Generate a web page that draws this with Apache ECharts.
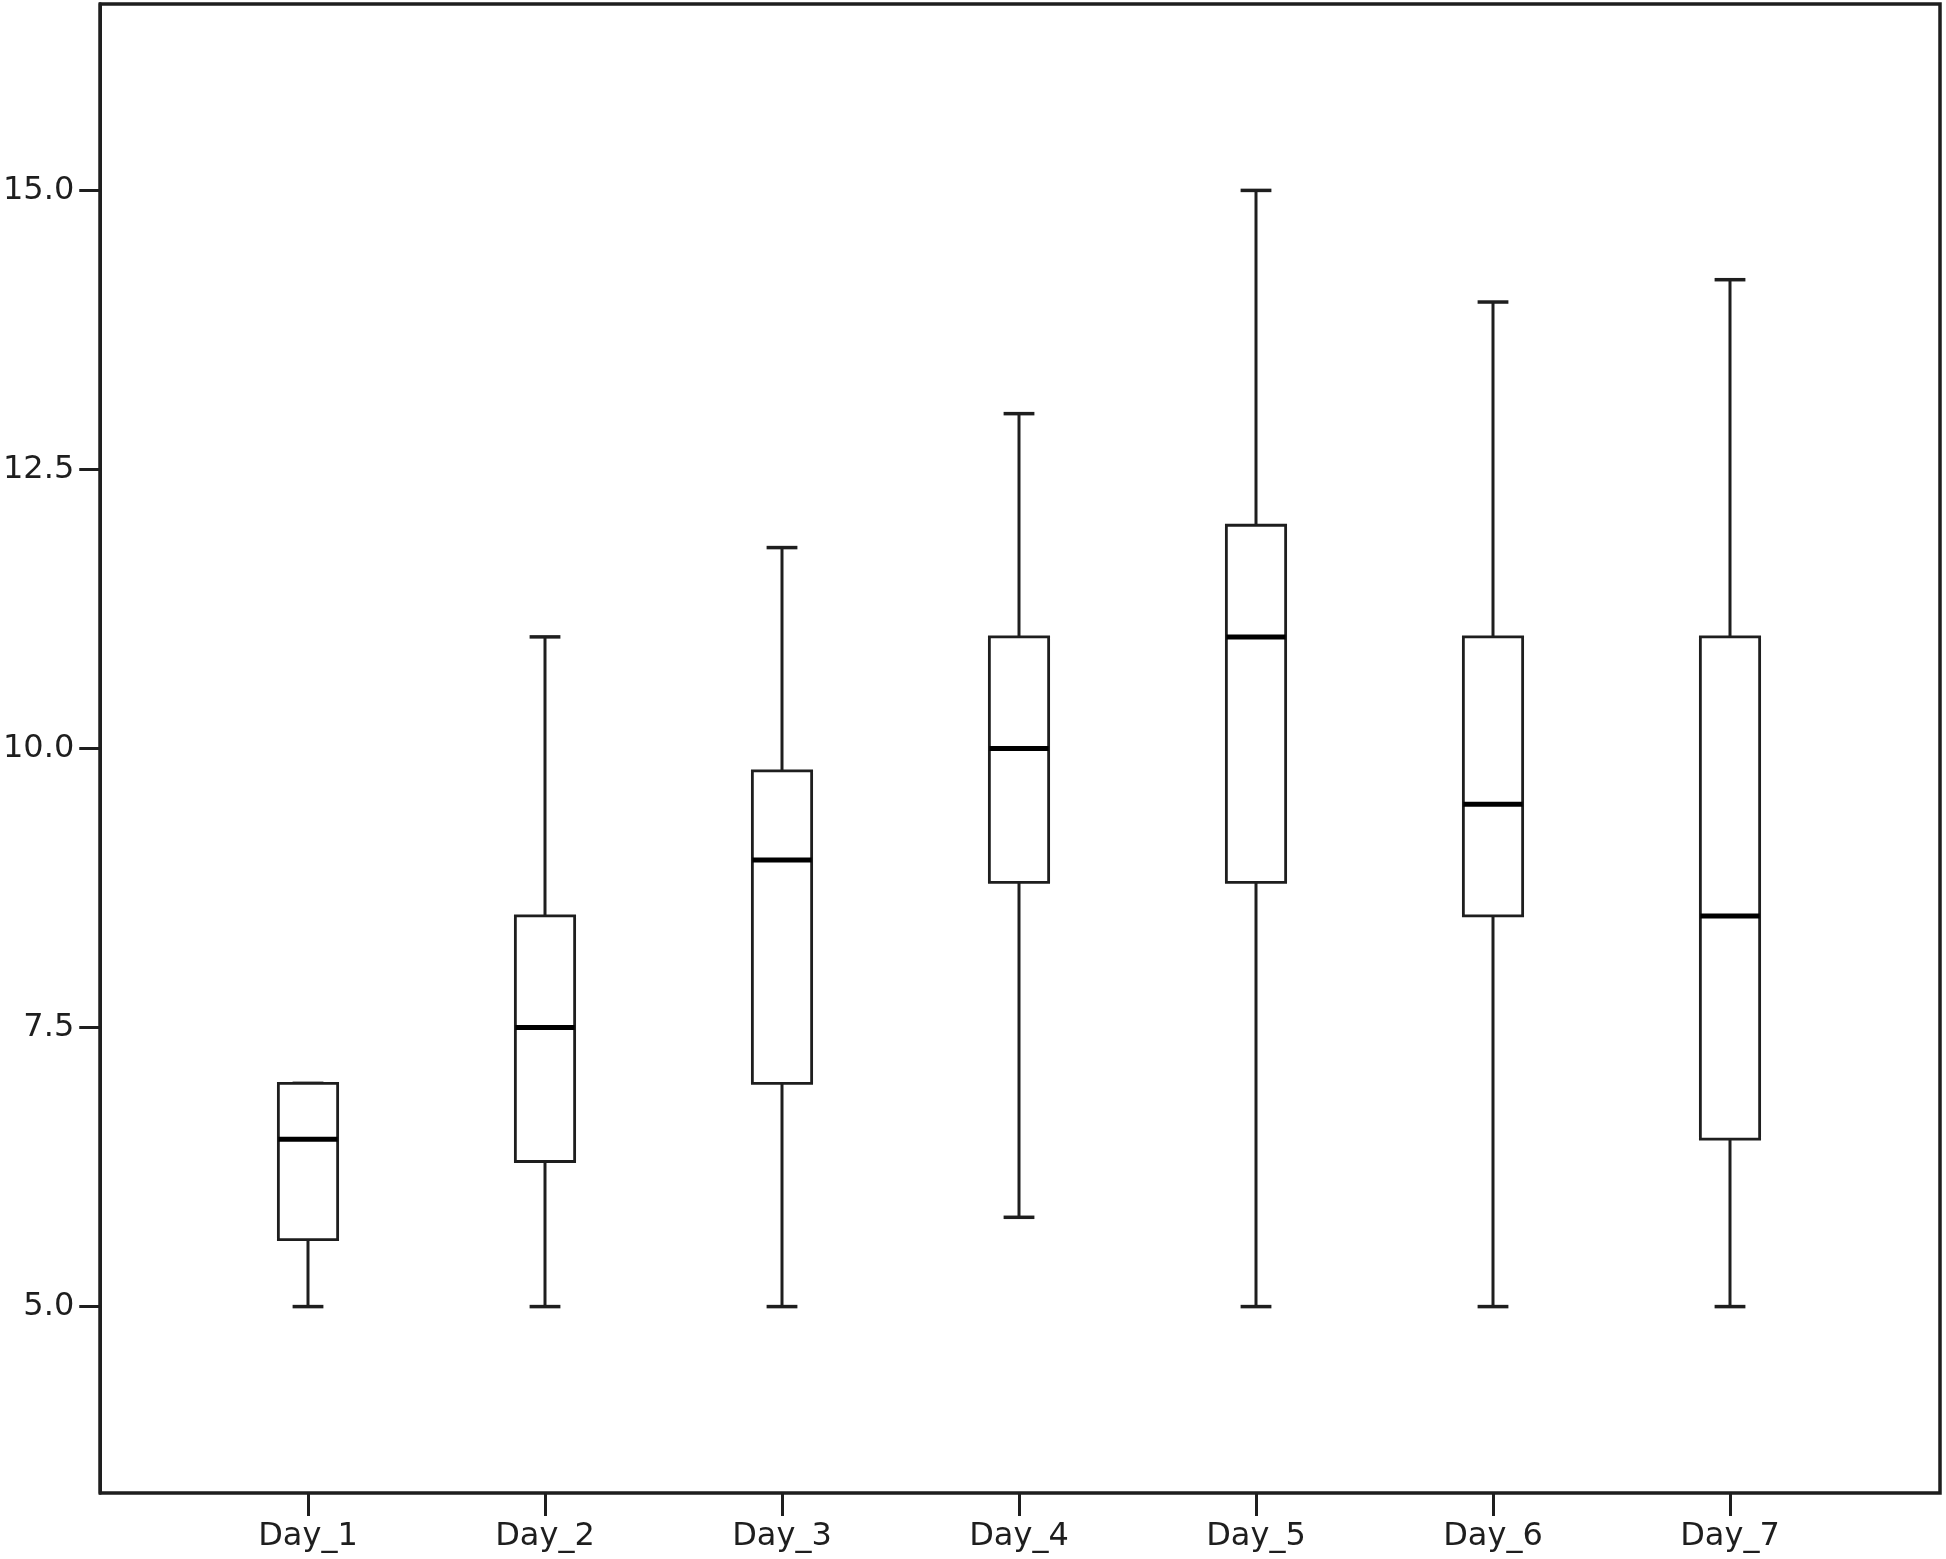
<!DOCTYPE html>
<html>
<head>
<meta charset="utf-8">
<script src="https://cdn.jsdelivr.net/npm/echarts@6/dist/echarts.min.js"></script>
<style>
html,body{margin:0;padding:0;background:#fff;}
#chart{width:1946px;height:1559px;}
</style>
</head>
<body>
<div id="chart"></div>
<script>
const days = ['Day_1','Day_2','Day_3','Day_4','Day_5','Day_6','Day_7'];
const mins    = [5.0, 5.0, 5.0, 5.8, 5.0, 5.0, 5.0];
const q1s     = [5.6, 6.3, 7.0, 8.8, 8.8, 8.5, 6.5];
const medians = [6.5, 7.5, 9.0, 10.0, 11.0, 9.5, 8.5];
const q3s     = [7.0, 8.5, 9.8, 11.0, 12.0, 11.0, 11.0];
const maxs    = [7.0, 11.0, 11.8, 13.0, 15.0, 14.0, 14.2];
const yTicks  = [5, 7.5, 10, 12.5, 15];
const yMin = 3.33, yMax = 16.67;

const boxData = days.map((d, i) => [i, mins[i], q1s[i], medians[i], q3s[i], maxs[i]]);

const FONT = 'DejaVu Sans';
const INK = '#1e1e1e';

function renderBox(params, api) {
  const idx = api.value(0);
  const pMin = api.coord([idx, api.value(1)]);
  const pQ1 = api.coord([idx, api.value(2)]);
  const pMed = api.coord([idx, api.value(3)]);
  const pQ3 = api.coord([idx, api.value(4)]);
  const pMax = api.coord([idx, api.value(5)]);
  const band = api.size([1, 0])[0];
  const bw = band * 0.25;
  const cw = band * 0.13;
  const x = pMed[0];
  const lineStyle = { stroke: INK, lineWidth: 3, fill: null };
  return {
    type: 'group',
    children: [
      { type: 'line', shape: { x1: x, y1: pQ3[1], x2: x, y2: pMax[1] }, style: lineStyle },
      { type: 'line', shape: { x1: x, y1: pQ1[1], x2: x, y2: pMin[1] }, style: lineStyle },
      { type: 'line', shape: { x1: x - cw / 2, y1: pMax[1], x2: x + cw / 2, y2: pMax[1] }, style: { stroke: INK, lineWidth: 3.5 } },
      { type: 'line', shape: { x1: x - cw / 2, y1: pMin[1], x2: x + cw / 2, y2: pMin[1] }, style: { stroke: INK, lineWidth: 3.5 } },
      { type: 'rect', shape: { x: x - bw / 2, y: pQ3[1], width: bw, height: pQ1[1] - pQ3[1] },
        style: { fill: '#fff', stroke: INK, lineWidth: 2.8 } },
      { type: 'line', shape: { x1: x - bw / 2, y1: pMed[1], x2: x + bw / 2, y2: pMed[1] }, style: { stroke: '#000', lineWidth: 5 } }
    ]
  };
}

const chart = echarts.init(document.getElementById('chart'), null, { renderer: 'canvas' });
chart.setOption({
  backgroundColor: '#fff',
  animation: false,
  grid: [
    { left: 98, top: 4, width: 1842, height: 1489, show: true, borderColor: INK, borderWidth: 3.5, backgroundColor: 'transparent' },
    { left: 189.5, top: 4, width: 1659, height: 1489, show: false }
  ],
  xAxis: [
    { gridIndex: 0, type: 'value', show: false, min: 0, max: 1 },
    {
      gridIndex: 1, type: 'category', data: days, boundaryGap: true,
      axisLine: { show: false },
      axisTick: { show: true, alignWithLabel: true, length: 23, lineStyle: { color: INK, width: 3 } },
      axisLabel: { margin: 28, fontSize: 32, fontFamily: FONT, color: INK },
      splitLine: { show: false }
    }
  ],
  yAxis: [
    {
      gridIndex: 0, type: 'value', min: yMin, max: yMax,
      axisLine: { show: true, lineStyle: { color: INK, width: 3.5 } },
      axisTick: { show: true, length: 21, customValues: yTicks, lineStyle: { color: INK, width: 3 } },
      axisLabel: { margin: 26, fontSize: 32, fontFamily: FONT, color: INK, customValues: yTicks,
        formatter: v => Number(v).toFixed(1) },
      splitLine: { show: false }
    },
    { gridIndex: 1, type: 'value', min: yMin, max: yMax, show: false, splitLine: { show: false } }
  ],
  series: [{
    type: 'custom',
    xAxisIndex: 1,
    yAxisIndex: 1,
    renderItem: renderBox,
    encode: { x: 0, y: [1, 2, 3, 4, 5] },
    data: boxData,
    z: 3
  }]
});
</script>
</body>
</html>
